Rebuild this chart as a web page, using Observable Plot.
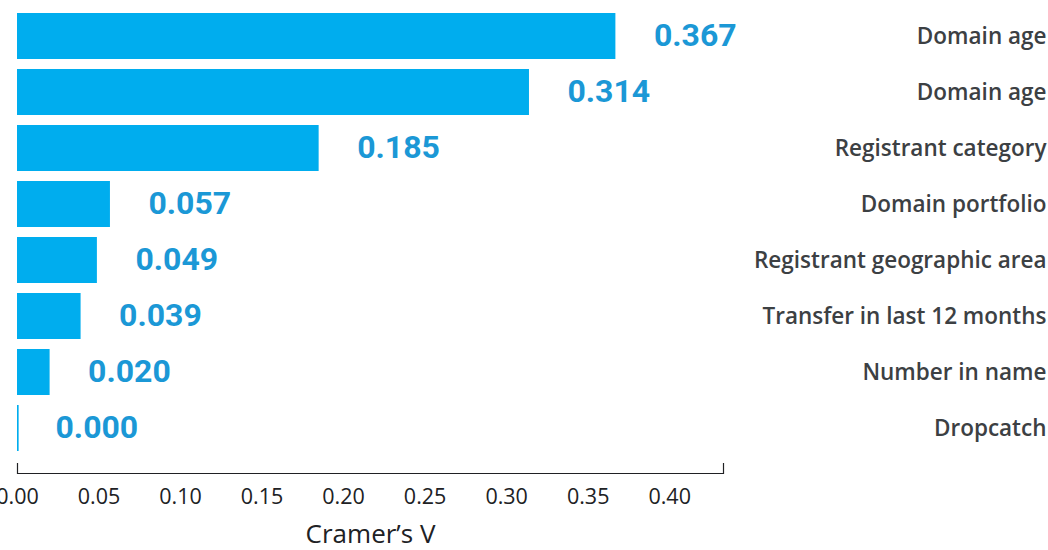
<!DOCTYPE html>
<html>
<head>
<meta charset="utf-8">
<script src="https://cdn.jsdelivr.net/npm/d3@7"></script>
<script src="https://cdn.jsdelivr.net/npm/@observablehq/plot@0.6"></script>
<style>
  html, body { margin: 0; padding: 0; background: #fff; }
  svg { display: block; }
</style>
</head>
<body>
<div id="chart"></div>
<script>
const categories = [
  "Domain age",
  "Domain age ",
  "Registrant category",
  "Domain portfolio",
  "Registrant geographic area",
  "Transfer in last 12 months",
  "Number in name",
  "Dropcatch"
];
const values = [0.367, 0.314, 0.185, 0.057, 0.049, 0.039, 0.020, 0.000];
const xTicks = [0, 0.05, 0.10, 0.15, 0.20, 0.25, 0.30, 0.35, 0.40];
const xMax = 0.433;
const axisLabel = "Cramer’s V";

const data = categories.map((c, i) => ({category: c, value: values[i]}));
const domainEnds = [0, xMax];

const H = 550, MT = 7, MB = 77;

const chart = Plot.plot({
  width: 1048,
  height: H,
  marginTop: MT,
  marginLeft: 17,
  marginRight: 325,
  marginBottom: MB,
  insetBottom: 16,
  style: {fontFamily: "'Open Sans', sans-serif", background: "#fff"},
  x: {domain: [0, xMax]},
  y: {domain: categories, paddingInner: 0.18, paddingOuter: 0.09},
  marks: [
    Plot.barX(data, {
      y: "category",
      x: d => Math.max(d.value, 0.001),
      fill: "#00adee"
    }),
    Plot.text(data, {
      y: "category",
      x: "value",
      text: d => d.value.toFixed(3),
      textAnchor: "start",
      dx: 38,
      dy: -1,
      fill: "#1b98d6",
      fontSize: 32,
      fontWeight: "bold",
      fontFamily: "Roboto, sans-serif",
      letterSpacing: "-0.6px"
    }),
    Plot.text(data, {
      y: "category",
      frameAnchor: "right",
      text: d => d.category.trim(),
      textAnchor: "end",
      dx: 323,
      fill: "#3c4043",
      fontSize: 22.5,
      fontWeight: 600
    }),
    Plot.frame({anchor: "bottom", stroke: "#202124", strokeWidth: 1.2}),
    Plot.tickX(domainEnds, {
      x: d => d,
      insetTop: H - MT - MB - 10,
      stroke: "#202124",
      strokeWidth: 1.2
    }),
    Plot.axisX({
      ticks: xTicks,
      tickSize: 0,
      tickPadding: 15,
      tickFormat: d3.format(".2f"),
      fontSize: 21.5,
      fill: "#202124",
      label: axisLabel,
      labelAnchor: "center",
      labelArrow: "none",
      labelOffset: 69
    }),
    Plot.axisY({ticks: [], label: null, tickSize: 0})
  ]
});

chart.querySelectorAll("text").forEach(t => {
  if (t.textContent === axisLabel) {
    t.setAttribute("font-size", "26");
  }
});
document.getElementById("chart").appendChild(chart);
</script>
</body>
</html>
